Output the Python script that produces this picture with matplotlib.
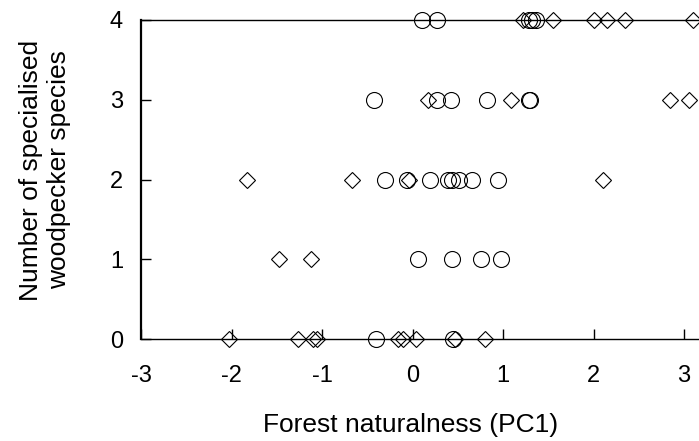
import matplotlib
matplotlib.use("Agg")
import matplotlib.pyplot as plt

plt.rcParams['font.family'] = ['Liberation Sans', 'DejaVu Sans']

# Group A (circles)
circ_x = [0.10, 0.27, 1.29, 1.32, 1.36,
          -0.42, 0.27, 0.43, 0.82, 1.29, 1.30,
          -0.30, -0.06, 0.19, 0.39, 0.44, 0.51, 0.66, 0.95,
          0.06, 0.44, 0.76, 0.98,
          -0.40, 0.45]
circ_y = [4, 4, 4, 4, 4,
          3, 3, 3, 3, 3, 3,
          2, 2, 2, 2, 2, 2, 2, 2,
          1, 1, 1, 1,
          0, 0]

# Group B (diamonds)
diam_x = [1.22, 1.55, 2.00, 2.15, 2.35, 3.10,
          0.17, 1.09, 2.84, 3.06,
          -1.83, -0.67, -0.04, 2.10,
          -1.47, -1.12,
          -2.03, -1.27, -1.10, -1.05, -0.16, -0.10, 0.04, 0.47, 0.80]
diam_y = [4, 4, 4, 4, 4, 4,
          3, 3, 3, 3,
          2, 2, 2, 2,
          1, 1,
          0, 0, 0, 0, 0, 0, 0, 0, 0]

x_ticks = [-3, -2, -1, 0, 1, 2, 3]
y_ticks = [0, 1, 2, 3, 4]

W, H = 699, 441
fig = plt.figure(figsize=(W / 100, H / 100), dpi=100)
ax = fig.add_axes([141 / W, (H - 339) / H, (W - 141) / W, 319 / H])

ax.plot(circ_x, circ_y, linestyle='none', marker='o', markersize=11.5,
        markerfacecolor='none', markeredgecolor='black', markeredgewidth=0.8,
        clip_on=False)
ax.plot(diam_x, diam_y, linestyle='none', marker='D', markersize=8.1,
        markerfacecolor='none', markeredgecolor='black', markeredgewidth=0.8,
        clip_on=False)

ax.set_xlim(-3, -3 + (W - 141) / 90.5)
ax.set_ylim(0, 4)
ax.set_xticks(x_ticks)
ax.set_yticks(y_ticks)
ax.set_xticklabels([str(t) for t in x_ticks])
ax.set_yticklabels([str(t) for t in y_ticks])

ax.spines['right'].set_visible(False)
ax.spines['top'].set_linewidth(1.0)
ax.spines['bottom'].set_linewidth(1.0)
ax.spines['left'].set_linewidth(1.6)

ax.tick_params(axis='both', direction='in', length=7, width=1.0,
               labelsize=17, colors='black')
ax.tick_params(axis='x', pad=19)
ax.tick_params(axis='y', pad=13)

xl = ax.set_xlabel('Forest naturalness (PC1)', fontsize=19)
xl.set_va('center')
ax.xaxis.set_label_coords((410.5 - 141) / 558, (339 - 425) / 319)
yl = ax.set_ylabel('Number of specialised\nwoodpecker species', fontsize=19,
                   linespacing=1.25)
yl.set_va('center')
ax.yaxis.set_label_coords((45 - 141) / 558, (339 - 170) / 319)

fig.savefig('out.png', dpi=100)
